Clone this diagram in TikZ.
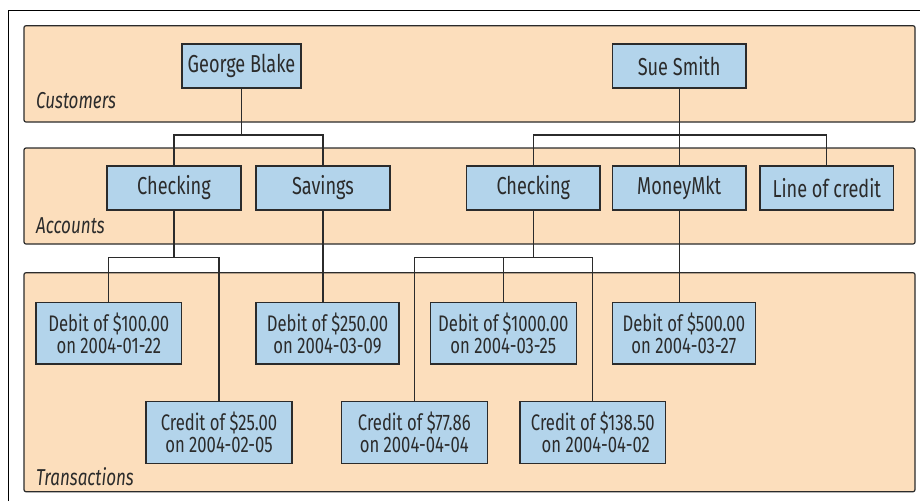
\documentclass[tikz,border=0pt]{standalone}
\usepackage{fontspec}
\setmainfont[FakeStretch=0.74]{Fira Sans}
\definecolor{band}{HTML}{FCDEBC}
\definecolor{boxblue}{HTML}{B3D4EB}
\definecolor{ink}{HTML}{2B2B2B}
\begin{document}
\begin{tikzpicture}[x=1pt,y=-1pt,
  bandbox/.style={draw=ink, line width=1.2pt, fill=band, rounded corners=2pt},
  acct/.style={draw=ink, line width=1.3pt, fill=boxblue, minimum height=44pt, inner sep=0pt,
    text=ink, font=\fontsize{24.5}{26}\selectfont},
  trans/.style={draw=ink, line width=1.3pt, fill=boxblue, minimum height=61.7pt, inner sep=0pt,
    text=ink, align=center, font=\fontsize{22.5}{21.7}\selectfont},
  layerlabel/.style={anchor=base west, inner sep=0pt, text=ink, font=\fontsize{23}{24}\selectfont\itshape},
  conn/.style={draw=ink, line width=1.1pt}]
\useasboundingbox (0,0) rectangle (920,501);
% outer frame
\draw[black, line width=1pt] (8,501) -- (8,10) -- (920,10);
% bands
\draw[bandbox] (24,25.7) rectangle (915,122);
\draw[bandbox] (24,148) rectangle (915,244);
\draw[bandbox] (24,272.7) rectangle (915,491.7);
\node[layerlabel] (lcust) at (36,108.3) {Customers};
\node[layerlabel] (lacct) at (36,233) {Accounts};
\node[layerlabel] (ltran) at (36,485) {Transactions};
% customers
\node[acct, minimum width=119pt] (gb) at (241.5,66) {George Blake};
\node[acct, minimum width=133.7pt] (ss) at (679.2,66) {Sue Smith};
% accounts
\node[acct, minimum width=134pt] (ck1) at (174,188) {Checking};
\node[acct, minimum width=134pt] (sav) at (323,188) {Savings};
\node[acct, minimum width=133.3pt] (ck2) at (533.3,188) {Checking};
\node[acct, minimum width=133.7pt] (mm) at (679.2,188) {MoneyMkt};
\node[acct, minimum width=133.3pt] (loc) at (826.7,188) {Line of credit};
% transactions
\node[trans, minimum width=145.7pt] (d100) at (108.8,333.2) {Debit of \$100.00\\on 2004-01-22};
\node[trans, minimum width=146pt] (c25) at (219,432.5) {Credit of \$25.00\\on 2004-02-05};
\node[trans, minimum width=143pt] (d250) at (327.5,333.2) {Debit of \$250.00\\on 2004-03-09};
\node[trans, minimum width=146pt] (d1000) at (503.3,333.2) {Debit of \$1000.00\\on 2004-03-25};
\node[trans, minimum width=146pt] (c77) at (414.3,432.5) {Credit of \$77.86\\on 2004-04-04};
\node[trans, minimum width=145.7pt] (c138) at (592.8,432.5) {Credit of \$138.50\\\hspace*{6pt}on 2004-04-02};
\node[trans, minimum width=143pt] (d500) at (683.8,333.2) {Debit of \$500.00\\on 2004-03-27};
% junctions
\coordinate (j1) at (241.5,135);
\coordinate (j2) at (679.2,135);
\coordinate (j3) at (174,257.3);
\coordinate (j4) at (533.3,257.3);
% connectors
\draw[conn] (gb.south) -- (j1);
\draw[conn] (ck1.north) |- (j1) -| (sav.north);
\draw[conn] (ss.south) -- (mm.north);
\draw[conn] (ck2.north) |- (j2) -| (loc.north);
\draw[conn] (ck1.south) -- (j3);
\draw[conn] (d100.north) |- (j3) -| (c25.north);
\draw[conn] (sav.south) -- (sav.south |- d250.north);
\draw[conn] (ck2.south) -- (j4);
\draw[conn] (c77.north) |- (j4) -| (c138.north);
\draw[conn] (d1000.north) -- (d1000.north |- j4);
\draw[conn] (mm.south) -- (mm.south |- d500.north);
\end{tikzpicture}
\end{document}
